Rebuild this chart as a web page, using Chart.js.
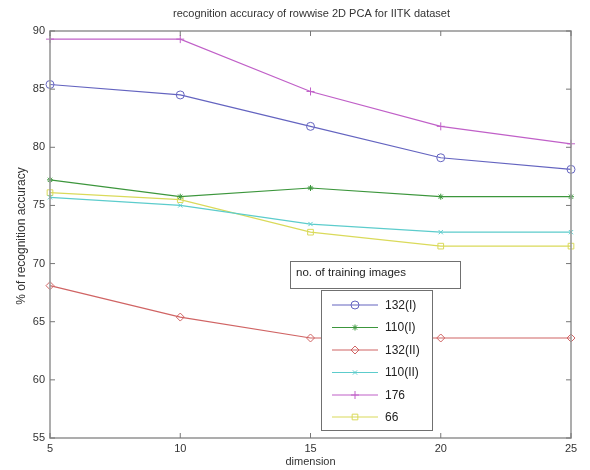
<!DOCTYPE html>
<html><head><meta charset="utf-8">
<script src="https://cdn.jsdelivr.net/npm/chart.js@4/dist/chart.umd.min.js"></script>
<style>html,body{margin:0;padding:0;background:#fff}canvas{display:block}</style>
</head><body>
<canvas id="c" width="590" height="470"></canvas>
<script>
const dims = [5, 10, 15, 20, 25];
const xTicks = [5, 10, 15, 20, 25];
const yTicks = [55, 60, 65, 70, 75, 80, 85, 90];
const seriesNames = ['132(I)', '110(I)', '132(II)', '110(II)', '176', '66'];
const s132I  = [85.4, 84.5, 81.8, 79.1, 78.1];
const s110I  = [77.2, 75.75, 76.5, 75.75, 75.75];
const s132II = [68.1, 65.4, 63.6, 63.6, 63.6];
const s110II = [75.7, 75.0, 73.4, 72.7, 72.7];
const s176   = [89.3, 89.3, 84.8, 81.8, 80.3];
const s66    = [76.1, 75.5, 72.7, 71.5, 71.5];
const titleText = 'recognition accuracy of rowwise 2D PCA for IITK dataset';
const xTitle = 'dimension';
const yTitle = '% of recognition accuracy';
const legendTitle = 'no. of training images';

const values = [s132I, s110I, s132II, s110II, s176, s66];
const colors = ['#6464c0', '#3c963c', '#d06464', '#5ccccc', '#c060c8', '#dada5a'];
const styles = ['circle', 'star', 'rectRot', 'crossRot', 'cross', 'rect'];
const radii = [4, 3, 4, 3, 4, 4];
const FONT = '"Liberation Sans", Arial, sans-serif';

const datasets = values.map((v, i) => ({
  label: seriesNames[i],
  data: dims.map((d, j) => ({x: d, y: v[j]})),
  borderColor: colors[i],
  backgroundColor: 'rgba(0,0,0,0)',
  pointBorderColor: colors[i],
  pointBackgroundColor: 'rgba(0,0,0,0)',
  pointStyle: styles[i],
  pointRadius: radii[i],
  pointBorderWidth: 1,
  borderWidth: 1.2,
  tension: 0,
  clip: false
}));

const framePlugin = {
  id: 'frame',
  afterDraw(chart) {
    const ctx = chart.ctx, a = chart.chartArea;
    const xs = chart.scales.x, ys = chart.scales.y;
    ctx.save();
    ctx.strokeStyle = '#999';
    ctx.lineWidth = 1.6;
    ctx.strokeRect(a.left, a.top, a.right - a.left, a.bottom - a.top);
    ctx.lineWidth = 1;
    ctx.strokeStyle = '#777';
    const L = 5;
    xTicks.forEach(t => {
      const px = xs.getPixelForValue(t);
      ctx.beginPath();
      ctx.moveTo(px, a.bottom); ctx.lineTo(px, a.bottom - L);
      ctx.moveTo(px, a.top); ctx.lineTo(px, a.top + L);
      ctx.stroke();
    });
    yTicks.forEach(t => {
      const py = ys.getPixelForValue(t);
      ctx.beginPath();
      ctx.moveTo(a.left, py); ctx.lineTo(a.left + L, py);
      ctx.moveTo(a.right, py); ctx.lineTo(a.right - L, py);
      ctx.stroke();
    });
    // title
    ctx.fillStyle = '#333';
    ctx.font = '11px ' + FONT;
    ctx.textAlign = 'center';
    ctx.textBaseline = 'middle';
    ctx.fillText(titleText, (a.left + a.right) / 2 + 1, 14);
    // x title
    ctx.fillText(xTitle, (a.left + a.right) / 2, 462);
    // y title
    ctx.font = '12px ' + FONT;
    ctx.translate(22, 236);
    ctx.rotate(-Math.PI / 2);
    ctx.fillText(yTitle, 0, 0);
    ctx.restore();

    // legend title box
    ctx.save();
    ctx.fillStyle = '#fff';
    ctx.strokeStyle = '#707070';
    ctx.lineWidth = 1;
    ctx.fillRect(290.5, 261.5, 170, 27);
    ctx.strokeRect(290.5, 261.5, 170, 27);
    ctx.fillStyle = '#222';
    ctx.font = '11.5px ' + FONT;
    ctx.textAlign = 'left';
    ctx.textBaseline = 'middle';
    ctx.fillText(legendTitle, 296, 273);
    // legend box
    ctx.fillStyle = '#fff';
    ctx.fillRect(321.5, 290.5, 111, 140);
    ctx.strokeRect(321.5, 290.5, 111, 140);
    const rowY = [305, 327.5, 350, 372.5, 395, 417];
    chart.data.datasets.forEach((ds, i) => {
      const y = rowY[i];
      ctx.strokeStyle = ds.borderColor;
      ctx.lineWidth = 1.2;
      ctx.beginPath();
      ctx.moveTo(332, y); ctx.lineTo(378, y);
      ctx.stroke();
      if (Chart.helpers && Chart.helpers.drawPoint) {
        ctx.fillStyle = 'rgba(0,0,0,0)';
        ctx.lineWidth = 1;
        Chart.helpers.drawPoint(ctx, {
          pointStyle: ds.pointStyle, radius: ds.pointRadius, borderWidth: 1, rotation: 0
        }, 355, y);
      }
      ctx.fillStyle = '#222';
      ctx.font = '12px ' + FONT;
      ctx.fillText(ds.label, 385, y + 0.5);
    });
    ctx.restore();
  }
};

new Chart(document.getElementById('c'), {
  type: 'line',
  data: {datasets},
  options: {
    responsive: false,
    animation: false,
    layout: {padding: {top: 31, right: 19, left: 0, bottom: 0}},
    plugins: {legend: {display: false}, title: {display: false}, tooltip: {enabled: false}},
    scales: {
      x: {
        type: 'linear', min: 5, max: 25,
        afterFit(s) { s.height = 32; },
        afterBuildTicks(s) { s.ticks = xTicks.map(v => ({value: v})); },
        grid: {display: false, drawTicks: false},
        border: {display: false},
        ticks: {color: '#333', font: {size: 11, family: FONT}, padding: 4, maxRotation: 0, autoSkip: false}
      },
      y: {
        type: 'linear', min: 55, max: 90,
        afterFit(s) { s.width = 50; },
        afterBuildTicks(s) { s.ticks = yTicks.map(v => ({value: v})); },
        grid: {display: false, drawTicks: false},
        border: {display: false},
        ticks: {color: '#333', font: {size: 11, family: FONT}, padding: 5, autoSkip: false}
      }
    }
  },
  plugins: [framePlugin]
});
</script>
</body></html>
